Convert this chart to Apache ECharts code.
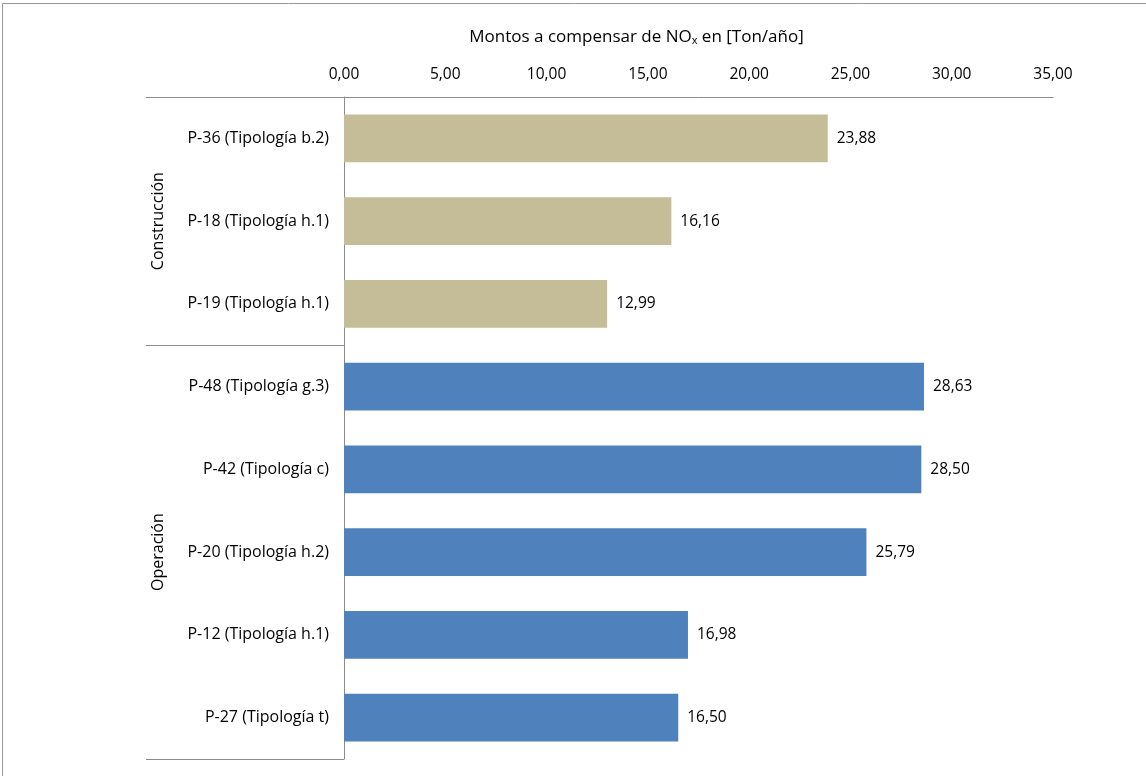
<!DOCTYPE html>
<html>
<head>
<meta charset="utf-8">
<script src="https://cdn.jsdelivr.net/npm/echarts@6/dist/echarts.min.js"></script>
<style>
  html, body { margin: 0; padding: 0; background: #fff; }
  #chart { width: 1146px; height: 776px; }
</style>
</head>
<body>
<div id="chart"></div>
<script>
// Project categories, top to bottom
const categories = [
  'P-36 (Tipología b.2)',
  'P-18 (Tipología h.1)',
  'P-19 (Tipología h.1)',
  'P-48 (Tipología g.3)',
  'P-42 (Tipología c)',
  'P-20 (Tipología h.2)',
  'P-12 (Tipología h.1)',
  'P-27 (Tipología t)'
];
// NOx amounts to offset [Ton/año]
const values = [23.88, 16.16, 12.99, 28.63, 28.50, 25.79, 16.98, 16.50];
// Phase groups and how many categories each one covers
const groupNames = ['Construcción', 'Operación'];
const groupSizes = [3, 5];
const groupColors = ['#C4BD97', '#4F81BD'];
// Value axis ticks
const axisMin = 0, axisMax = 35, axisStep = 5;

const FONT = 'Open Sans';
const GREY = '#8c8c8c';
const fmt = v => v.toFixed(2).replace('.', ',');

// colour each bar by the group it belongs to
const barData = [];
let idx = 0;
groupSizes.forEach((n, g) => {
  for (let k = 0; k < n; k++, idx++) {
    barData.push({ value: values[idx], itemStyle: { color: groupColors[g] } });
  }
});

const chart = echarts.init(document.getElementById('chart'), null, { renderer: 'canvas' });

chart.setOption({
  backgroundColor: '#fff',
  animation: false,
  textStyle: { fontFamily: FONT },
  grid: { left: 344, right: 93, top: 97, bottom: 17, containLabel: false },
  xAxis: {
    type: 'value',
    position: 'top',
    min: axisMin, max: axisMax, interval: axisStep,
    name: '{a|Montos a compensar de NO}{s|x}{a| en [Ton/año]}',
    nameLocation: 'middle',
    nameGap: 51,
    nameTextStyle: {
      padding: [0, 124, 0, 0],
      rich: {
        a: { fontFamily: FONT, fontSize: 17, color: '#000' },
        s: { fontFamily: FONT, fontSize: 11, color: '#000', verticalAlign: 'bottom', padding: [7, 0, 0, 0] }
      }
    },
    axisLine: { show: true, lineStyle: { color: GREY, width: 1 } },
    axisTick: { show: false },
    splitLine: { show: false },
    axisLabel: { fontFamily: FONT, fontSize: 15.5, color: '#000', margin: 14, formatter: fmt }
  },
  yAxis: {
    type: 'category',
    inverse: true,
    data: categories,
    axisLine: { show: true, lineStyle: { color: GREY, width: 1 } },
    axisTick: { show: false },
    axisLabel: { fontFamily: FONT, fontSize: 16, color: '#000', margin: 15 }
  },
  series: [{
    type: 'bar',
    data: barData,
    barCategoryGap: '42%',
    label: {
      show: true,
      position: 'right',
      distance: 9,
      fontFamily: FONT,
      fontSize: 15.5,
      color: '#000',
      formatter: p => fmt(p.value)
    }
  }]
});

// Group separators and rotated group names, placed from the category scale
function drawGroups() {
  const centers = categories.map(c => chart.convertToPixel({ yAxisIndex: 0 }, c));
  const band = centers[1] - centers[0];
  const axisX = chart.convertToPixel({ xAxisIndex: 0 }, axisMin);
  const lineLeft = 146;
  const elements = [];
  // outer frame (top and left edges)
  elements.push({ type: 'line', shape: { x1: 2.5, y1: 3.5, x2: 1146, y2: 3.5 }, style: { stroke: '#999', lineWidth: 1 } });
  elements.push({ type: 'line', shape: { x1: 2.5, y1: 3.5, x2: 2.5, y2: 776 }, style: { stroke: '#999', lineWidth: 1 } });

  let start = 0;
  const boundaries = [centers[0] - band / 2];
  groupSizes.forEach((n, g) => {
    const top = centers[start] - band / 2;
    const bottom = centers[start + n - 1] + band / 2;
    boundaries.push(bottom);
    elements.push({
      type: 'text',
      x: 158, y: (top + bottom) / 2,
      rotation: Math.PI / 2,
      style: {
        text: groupNames[g], fontFamily: FONT, fontSize: 16, fill: '#000',
        align: 'center', verticalAlign: 'middle'
      }
    });
    start += n;
  });
  boundaries.forEach(y => {
    const yy = Math.round(y) + 0.5;
    elements.push({ type: 'line', shape: { x1: lineLeft, y1: yy, x2: axisX, y2: yy }, style: { stroke: GREY, lineWidth: 1 } });
  });
  chart.setOption({ graphic: { elements } });
}
drawGroups();
</script>
</body>
</html>
